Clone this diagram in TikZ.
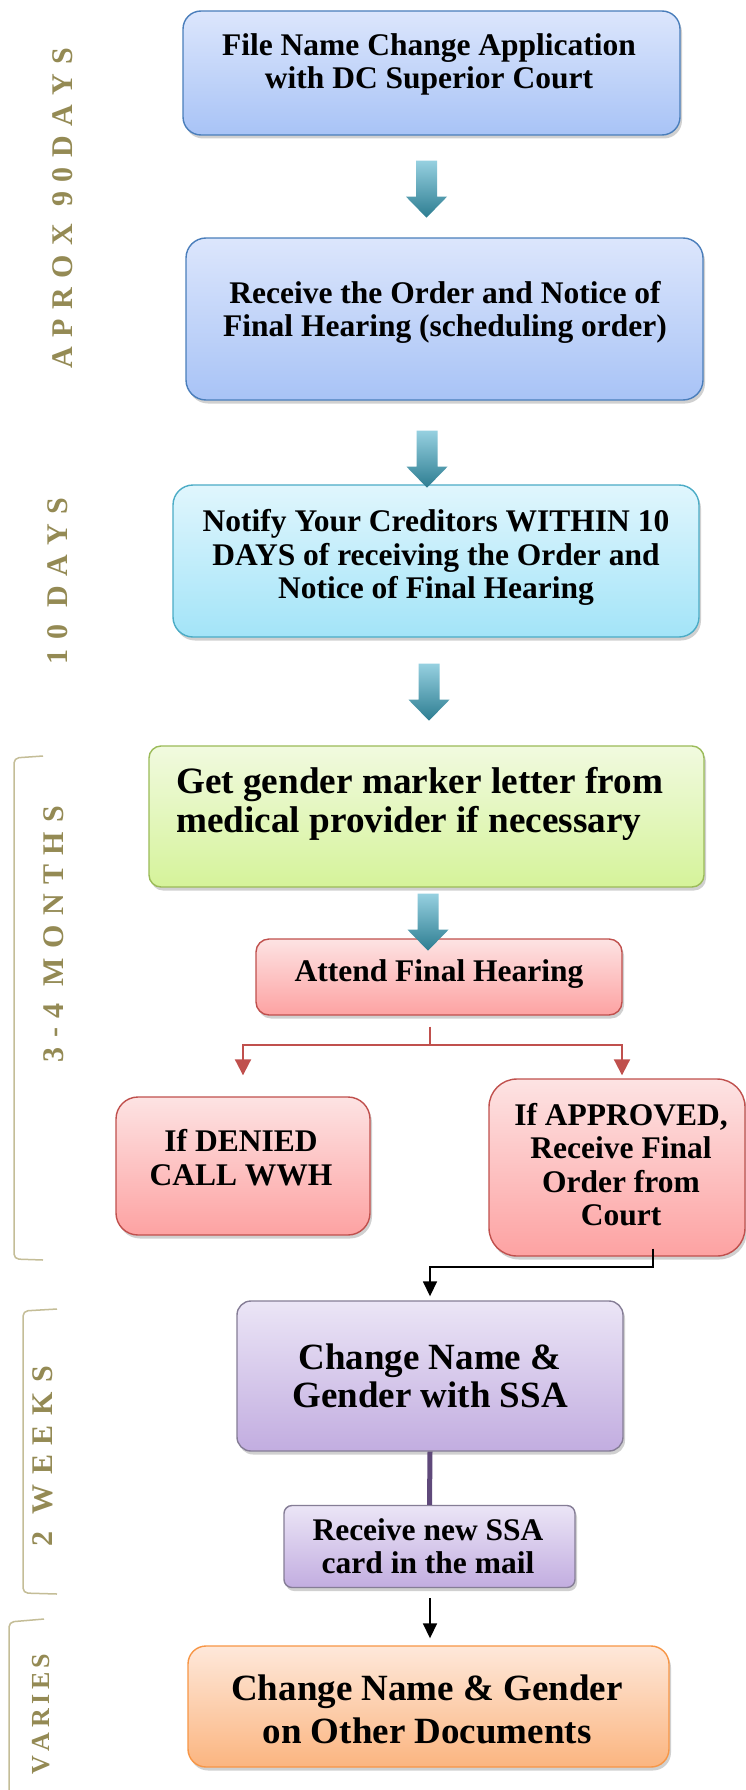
\documentclass[tikz,border=0pt]{standalone}
\usepackage{fontspec}
\setmainfont{Liberation Serif}
\usetikzlibrary{shadows,arrows.meta,calc}
\definecolor{bluetop}{HTML}{DCE6FC}
\definecolor{bluebot}{HTML}{A8C3F6}
\definecolor{bluebd}{HTML}{4A7EBB}
\definecolor{cyantop}{HTML}{E0F6FD}
\definecolor{cyanbot}{HTML}{A3E4F8}
\definecolor{cyanbd}{HTML}{4BACC6}
\definecolor{greentop}{HTML}{F1FADF}
\definecolor{greenbot}{HTML}{D5F39A}
\definecolor{greenbd}{HTML}{9BBB59}
\definecolor{redtop}{HTML}{FDE3E3}
\definecolor{redbot}{HTML}{FDA2A2}
\definecolor{redbd}{HTML}{C0504D}
\definecolor{purptop}{HTML}{EBE5F6}
\definecolor{purpbot}{HTML}{C2ADE0}
\definecolor{purpbd}{HTML}{857D96}
\definecolor{purpline}{HTML}{5F497A}
\definecolor{orgtop}{HTML}{FEE8DA}
\definecolor{orgbot}{HTML}{FBB580}
\definecolor{orgbd}{HTML}{F79646}
\definecolor{arrtop}{HTML}{96D0E0}
\definecolor{arrbot}{HTML}{2D7D91}
\definecolor{sidecol}{HTML}{948A54}
\definecolor{brkcol}{HTML}{C4BD97}
\newcommand{\ls}{\kern9.5pt}
\newcommand{\lsv}{\kern4.5pt}
\newcommand{\blockarrow}[1]{\shade[top color=arrtop, bottom color=arrbot] #1 ++(-10.5,0) -- ++(21,0) -- ++(0,36) -- ++(10,0) -- ++(-20.5,21) -- ++(-20.5,-21) -- ++(10,0) -- cycle;}
\tikzset{
  box/.style={rectangle, line width=1.4pt, inner sep=0pt,
    drop shadow={shadow xshift=2pt, shadow yshift=-3.5pt, opacity=0.3, fill=black!60}},
  bluebox/.style={box, draw=bluebd, top color=bluetop, bottom color=bluebot},
  cyanbox/.style={box, draw=cyanbd, top color=cyantop, bottom color=cyanbot},
  greenbox/.style={box, draw=greenbd, top color=greentop, bottom color=greenbot},
  redbox/.style={box, draw=redbd, top color=redtop, bottom color=redbot},
  purpbox/.style={box, draw=purpbd, top color=purptop, bottom color=purpbot},
  orgbox/.style={box, draw=orgbd, top color=orgtop, bottom color=orgbot},
  txt/.style={align=center, inner sep=0pt, font=\bfseries\fontsize{31.5}{33.5}\selectfont},
  bigtxt/.style={align=center, inner sep=0pt, font=\bfseries\fontsize{37}{38}\selectfont},
  side/.style={rotate=90, inner sep=0pt, text=sidecol, font=\bfseries\fontsize{30}{36}\selectfont},
  brk/.style={draw=brkcol, line width=1.5pt, rounded corners=5pt},
  redln/.style={draw=redbd, line width=2pt},
  redarr/.style={redln, -{Triangle[width=16pt,length=16pt]}},
  blkarr/.style={draw=black, line width=1.6pt, -{Triangle[width=14pt,length=15pt]}},
  purpln/.style={draw=purpline, line width=5pt}
}
\begin{document}
\begin{tikzpicture}[x=1pt,y=-1pt]
\useasboundingbox (0,0) rectangle (746,1790);
\fill[white] (0,0) rectangle (746,1790);

% side brackets
\draw[brk] (43,756) -- (14,758) -- (14,1259) -- (43,1260);
\draw[brk] (57,1309) -- (23,1311) -- (23,1593) -- (57,1594);
\draw[brk] (44,1619) -- (9,1622) -- (9,1800);

% side labels
\node[side] (s1) at (63,208) {A\ls P\ls R\ls O\ls X\ls{} 9\ls 0\ls D\ls A\ls Y\ls S};
\node[side] (s2) at (58,581) {1\ls 0\ls{} D\ls A\ls Y\ls S};
\node[side] (s3) at (54,934) {3\ls -\ls 4\ls{} M\ls O\ls N\ls T\ls H\ls S};
\node[side] (s4) at (43,1456) {2\ls{} W\ls E\ls E\ls K\ls S};
\node[side, font=\bfseries\fontsize{26}{30}\selectfont] (s5) at (41,1714) {V\lsv A\lsv R\lsv I\lsv E\lsv S};

% boxes
\node[bluebox, rounded corners=18pt, minimum width=497pt, minimum height=124pt] (b1) at (431.5,73) {};
\node[bluebox, rounded corners=20pt, minimum width=517pt, minimum height=162pt] (b2) at (444.5,319) {};
\node[cyanbox, rounded corners=20pt, minimum width=526pt, minimum height=152pt] (b3) at (436,561) {};
\node[greenbox, rounded corners=12pt, minimum width=555pt, minimum height=141pt] (b4) at (426.5,816.5) {};
\node[redbox, rounded corners=13pt, minimum width=366pt, minimum height=76pt] (b5) at (439,977) {};
\node[redbox, rounded corners=22pt, minimum width=254pt, minimum height=138pt] (b6) at (243,1166) {};
\node[redbox, rounded corners=28pt, minimum width=256pt, minimum height=177pt] (b7) at (617,1167.5) {};
\node[purpbox, rounded corners=14pt, minimum width=386pt, minimum height=150pt] (b8) at (430,1376) {};
\node[purpbox, rounded corners=8pt, minimum width=291pt, minimum height=82pt] (b9) at (429.5,1546.5) {};
\node[orgbox, rounded corners=18pt, minimum width=481pt, minimum height=121pt] (b10) at (428.5,1706.5) {};

% texts
\node[txt] (t1) at (429,65.5) {\strut File Name Change Application\\\strut with DC Superior Court};
\node[txt] (t2) at (445,313.3) {\strut Receive the Order and Notice of\\\strut Final Hearing (scheduling order)};
\node[txt] (t3) at (436,558.3) {\strut Notify Your Creditors WITHIN 10\\\strut DAYS of receiving the Order and\\\strut Notice of Final Hearing};
\node[bigtxt, align=left, anchor=west, font=\bfseries\fontsize{37.2}{38.5}\selectfont] (t4) at (176,805.5) {\strut Get gender marker letter from\\\strut medical provider if necessary};
\node[txt] (t5) at (439,975) {\strut Attend Final Hearing};
\node[txt] (t6) at (241,1162) {\strut If DENIED\\\strut CALL WWH};
\node[txt] (t7) at (621,1168.8) {\strut If APPROVED,\\\strut Receive Final\\\strut Order from\\\strut Court};
\node[bigtxt] (t8) at (430,1380.5) {\strut Change Name \&\\\strut Gender with SSA};
\node[txt] (t9) at (428,1550.3) {\strut Receive new SSA\\\strut card in the mail};
\node[bigtxt, font=\bfseries\fontsize{37}{43}\selectfont] (t10) at (427,1713) {\strut Change Name \& Gender\\\strut on Other Documents};

% block arrows
\blockarrow{($(b1.south)+(-5,25)$)}
\blockarrow{($(b2.south)+(-17.5,30)$)}
\blockarrow{($(b3.south)+(-7,26)$)}
\blockarrow{($(b4.south)+(1.5,6)$)}

% red split connectors
\coordinate (split) at ($(b5.south)+(-9,29)$);
\draw[redln] ($(b5.south)+(-9,11)$) -- (split);
\draw[redarr] (split) -| ($(b6.north)+(0,-21)$);
\draw[redarr] (split) -| ($(b7.north)+(5,-3)$);

% black and purple connectors
\draw[blkarr] ($(b7.south)+(36,-8)$) -- ++(0,18) -| ($(b8.north)+(0,-4)$);
\draw[purpln] (b8.south) -- (b9.north);
\draw[blkarr] ($(b9.south)+(0.5,10)$) -- ($(b10.north)+(1.5,-7)$);
\end{tikzpicture}
\end{document}
